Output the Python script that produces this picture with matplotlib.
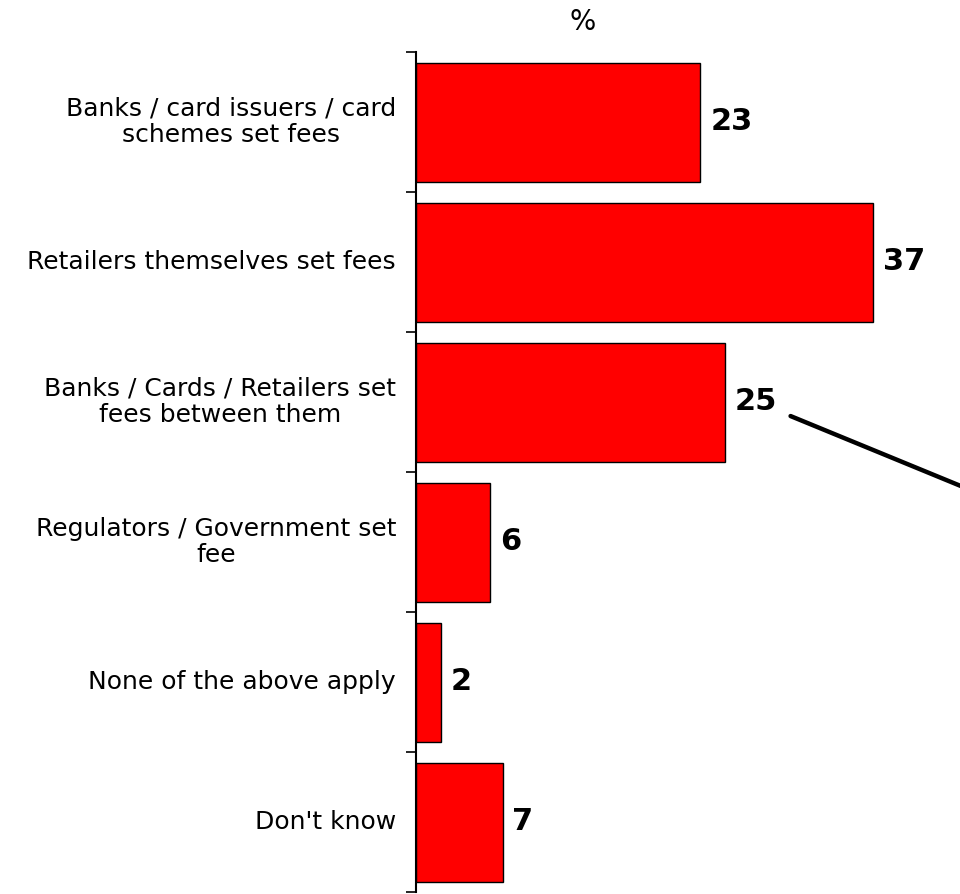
import numpy as np
from matplotlib import pyplot as plt

plt.rcParams['font.family'] = ['DejaVu Sans']

categories = ['Banks / card issuers / card\nschemes set fees',
              'Retailers themselves set fees',
              'Banks / Cards / Retailers set\nfees between them',
              'Regulators / Government set\nfee',
              'None of the above apply',
              "Don't know"]
values = [23, 37, 25, 6, 2, 7]

fig = plt.figure(figsize=(9.6, 8.94), dpi=100)
ax = fig.add_axes([416 / 960, 2 / 894, 544 / 960, 840 / 894])

pos = np.arange(len(values))
ax.barh(pos, values, height=0.85, color='#ff0000', edgecolor='black', linewidth=1)

for p, v in zip(pos, values):
    ax.text(v + 0.8, p, str(v), va='center', ha='left',
            fontsize=22, fontweight='bold')

ax.set_xlim(0, 44)
ax.set_ylim(len(values) - 0.5, -0.5)
ax.set_xticks([])
ax.set_yticks(np.arange(len(values) + 1) - 0.5)
ax.set_yticklabels([])
ax.tick_params(axis='y', direction='out', length=7, width=1.2)
for s in ['top', 'right', 'bottom']:
    ax.spines[s].set_visible(False)
ax.spines['left'].set_linewidth(1.5)

# category labels, centred multi-line text ending near x=396px
for p, c in zip(pos, categories):
    ax.annotate(c, xy=(0, p), xycoords=('axes fraction', 'data'),
                xytext=(-20, 0), textcoords='offset pixels',
                ha='right', va='center', multialignment='center',
                fontsize=18, linespacing=1.15)

fig.text(583 / 960, 1 - 22 / 894, '%', ha='center', va='center', fontsize=20)

ax.annotate('', xy=(990, 894 - 498), xycoords='figure pixels',
            xytext=(788, 894 - 415), textcoords='figure pixels',
            arrowprops=dict(arrowstyle='-|>', lw=3.2, color='black',
                            mutation_scale=25),
            annotation_clip=False)

plt.savefig('out.png', dpi=100)
